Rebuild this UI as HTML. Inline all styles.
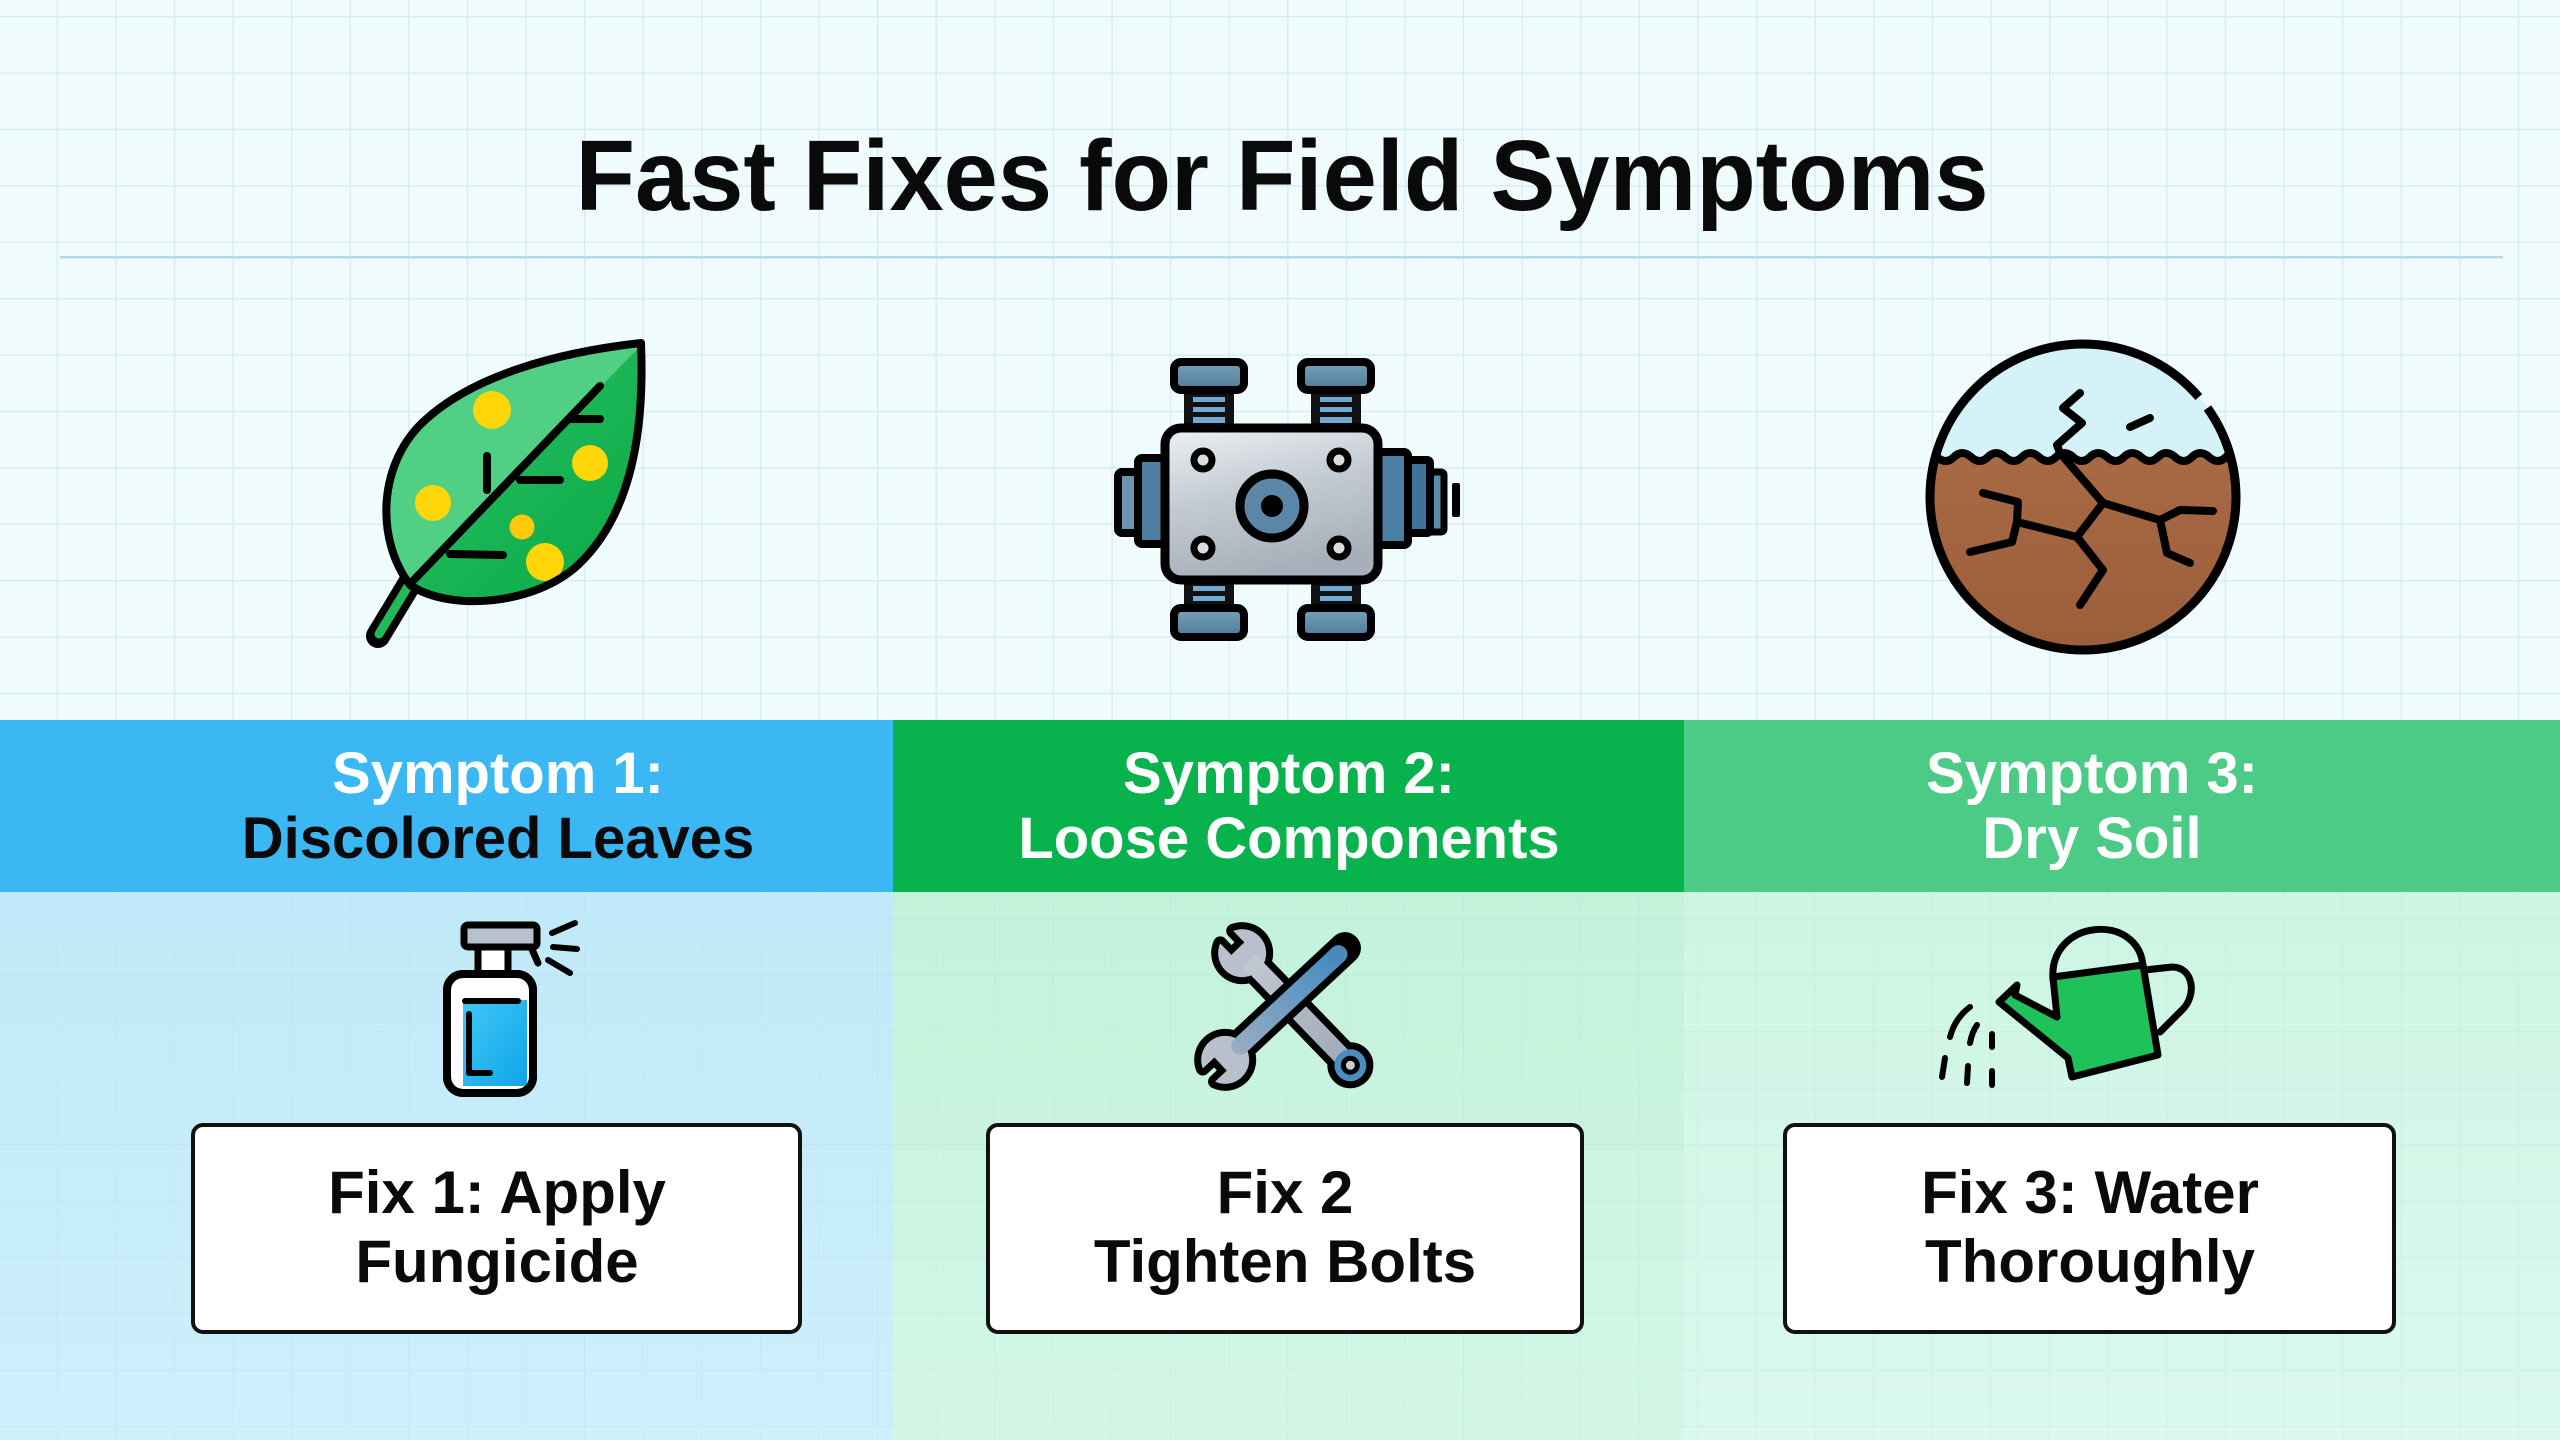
<!DOCTYPE html>
<html>
<head>
<meta charset="utf-8">
<style>
  html,body{margin:0;padding:0;width:2560px;height:1440px;overflow:hidden;background:#effbfd;}
  svg{display:block;}
  text{font-family:"Liberation Sans", Arial, sans-serif;font-weight:bold;}
</style>
</head>
<body>
<svg width="2560" height="1440" viewBox="0 0 2560 1440" xmlns="http://www.w3.org/2000/svg">
  <defs>
    <pattern id="grid" x="-2" y="16" width="58.6" height="56.4" patternUnits="userSpaceOnUse">
      <path d="M0 0 V56.4 M0 0 H58.6" fill="none" stroke="#d2ecf4" stroke-width="2.5"/>
    </pattern>
    <pattern id="gridf" x="-2" y="16" width="58.6" height="56.4" patternUnits="userSpaceOnUse">
      <path d="M0 0 V56.4 M0 0 H58.6" fill="none" stroke="#9fcfdf" stroke-opacity="0.18" stroke-width="2"/>
    </pattern>
    <linearGradient id="p1" x1="0" y1="0" x2="0" y2="1">
      <stop offset="0" stop-color="#c0e9f9"/>
      <stop offset="1" stop-color="#cdf0fb"/>
    </linearGradient>
    <linearGradient id="p2" x1="0" y1="0" x2="0" y2="1">
      <stop offset="0" stop-color="#c3f2db"/>
      <stop offset="1" stop-color="#d3f7e7"/>
    </linearGradient>
    <linearGradient id="p3" x1="0" y1="0" x2="0" y2="1">
      <stop offset="0" stop-color="#cdf5e3"/>
      <stop offset="1" stop-color="#dbf9ee"/>
    </linearGradient>
    <linearGradient id="leafDark" x1="0" y1="0" x2="1" y2="1">
      <stop offset="0" stop-color="#2cc466"/>
      <stop offset="1" stop-color="#0aa846"/>
    </linearGradient>
    <linearGradient id="metal" x1="0" y1="0" x2="0.3" y2="1">
      <stop offset="0" stop-color="#eef1f4"/>
      <stop offset="0.5" stop-color="#c3cad2"/>
      <stop offset="1" stop-color="#a7b0ba"/>
    </linearGradient>
    <linearGradient id="steel" x1="0" y1="0" x2="0" y2="1">
      <stop offset="0" stop-color="#7aa0bb"/>
      <stop offset="1" stop-color="#4d7b9b"/>
    </linearGradient>
    <linearGradient id="soil" x1="0" y1="0" x2="0" y2="1">
      <stop offset="0" stop-color="#a86a44"/>
      <stop offset="1" stop-color="#9a5d3a"/>
    </linearGradient>
    <linearGradient id="liquid" x1="0" y1="0" x2="1" y2="1">
      <stop offset="0" stop-color="#42c7f7"/>
      <stop offset="1" stop-color="#0ea5e8"/>
    </linearGradient>
    <linearGradient id="blueh" gradientUnits="userSpaceOnUse" x1="164" y1="0" x2="10" y2="0">
      <stop offset="0" stop-color="#3f88bd"/>
      <stop offset="1" stop-color="#9aaec3"/>
    </linearGradient>
    <linearGradient id="grayh" gradientUnits="userSpaceOnUse" x1="0" y1="0" x2="150" y2="0">
      <stop offset="0" stop-color="#c3cbd3"/>
      <stop offset="1" stop-color="#9eabb8"/>
    </linearGradient>
    <clipPath id="leafClip">
      <path d="M641 343 C560 352 470 375 420 425 C378 468 376 540 410 585 C450 612 535 605 578 565 C628 518 645 440 641 343 Z"/>
    </clipPath>
    <clipPath id="soilClip">
      <circle cx="2083" cy="497" r="153"/>
    </clipPath>
  </defs>

  <!-- background top -->
  <rect x="0" y="0" width="2560" height="720" fill="#effbfd"/>
  <rect x="0" y="0" width="2560" height="720" fill="url(#grid)"/>

  <!-- separator line -->
  <rect x="60" y="256" width="2443" height="2.5" fill="#b3d9e7"/>

  <!-- title -->
  <text x="1282" y="210" font-size="100" text-anchor="middle" fill="#0a0a0a" textLength="1413" lengthAdjust="spacingAndGlyphs">Fast Fixes for Field Symptoms</text>

  <!-- lower panels -->
  <rect x="0" y="892" width="893" height="548" fill="url(#p1)"/>
  <rect x="893" y="892" width="791" height="548" fill="url(#p2)"/>
  <rect x="1684" y="892" width="876" height="548" fill="url(#p3)"/>
  <rect x="0" y="892" width="2560" height="548" fill="url(#gridf)"/>

  <!-- header band -->
  <rect x="0" y="720" width="893" height="172" fill="#3bb8f3"/>
  <rect x="893" y="720" width="791" height="172" fill="#08b24d"/>
  <rect x="1684" y="720" width="876" height="172" fill="#4ccb86"/>

  <text x="498" y="793" font-size="58" text-anchor="middle" fill="#ffffff">Symptom 1:</text>
  <text x="498" y="858" font-size="58" text-anchor="middle" fill="#0a0a0a">Discolored Leaves</text>
  <text x="1289" y="793" font-size="58" text-anchor="middle" fill="#ffffff">Symptom 2:</text>
  <text x="1289" y="858" font-size="58" text-anchor="middle" fill="#ffffff">Loose Components</text>
  <text x="2092" y="793" font-size="58" text-anchor="middle" fill="#ffffff">Symptom 3:</text>
  <text x="2092" y="858" font-size="58" text-anchor="middle" fill="#ffffff">Dry Soil</text>

  <!-- fix boxes -->
  <rect x="193" y="1125" width="607" height="207" rx="10" fill="#ffffff" stroke="#111" stroke-width="4"/>
  <rect x="988" y="1125" width="594" height="207" rx="10" fill="#ffffff" stroke="#111" stroke-width="4"/>
  <rect x="1785" y="1125" width="609" height="207" rx="10" fill="#ffffff" stroke="#111" stroke-width="4"/>

  <text x="497" y="1213" font-size="60" text-anchor="middle" fill="#0a0a0a">Fix 1: Apply</text>
  <text x="497" y="1282" font-size="60" text-anchor="middle" fill="#0a0a0a">Fungicide</text>
  <text x="1285" y="1213" font-size="60" text-anchor="middle" fill="#0a0a0a">Fix 2</text>
  <text x="1285" y="1282" font-size="60" text-anchor="middle" fill="#0a0a0a">Tighten Bolts</text>
  <text x="2090" y="1213" font-size="60" text-anchor="middle" fill="#0a0a0a">Fix 3: Water</text>
  <text x="2090" y="1282" font-size="60" text-anchor="middle" fill="#0a0a0a">Thoroughly</text>

  <!-- ===== LEAF ===== -->
  <g>
    <path d="M410 583 L378 636" stroke="#000" stroke-width="24" stroke-linecap="round" fill="none"/>
    <path d="M410 583 L379 634" stroke="#22b95a" stroke-width="9" stroke-linecap="round" fill="none"/>
    <path d="M641 343 C560 352 470 375 420 425 C378 468 376 540 410 585 C450 612 535 605 578 565 C628 518 645 440 641 343 Z" fill="url(#leafDark)"/>
    <g clip-path="url(#leafClip)">
      <polygon points="360,320 660,320 641,345 405,590 360,610" fill="#50cf85"/>
    </g>
    <circle cx="492" cy="410" r="19" fill="#ffd60a"/>
    <circle cx="590" cy="463" r="18" fill="#ffd60a"/>
    <circle cx="433" cy="503" r="18" fill="#ffd60a"/>
    <circle cx="522" cy="527" r="12.5" fill="#ffc80a"/>
    <circle cx="545" cy="562" r="19" fill="#ffd60a"/>
    <g stroke="#000" stroke-width="8" stroke-linecap="round" fill="none">
      <path d="M410 584 L600 386"/>
      <path d="M487 456 L487 490"/>
      <path d="M520 480 L560 480"/>
      <path d="M572 419 L600 419"/>
      <path d="M450 554 L503 555"/>
    </g>
    <path d="M641 343 C560 352 470 375 420 425 C378 468 376 540 410 585 C450 612 535 605 578 565 C628 518 645 440 641 343 Z" fill="none" stroke="#000" stroke-width="8" stroke-linejoin="round"/>
  </g>

  <!-- ===== DEVICE ===== -->
  <g stroke="#000" stroke-linejoin="round">
    <rect x="1184" y="388" width="50" height="44" fill="#111" stroke="none"/>
    <rect x="1311" y="388" width="50" height="44" fill="#111" stroke="none"/>
    <rect x="1184" y="578" width="50" height="34" fill="#111" stroke="none"/>
    <rect x="1311" y="578" width="50" height="34" fill="#111" stroke="none"/>
    <g fill="#6fa9d4" stroke="none">
      <rect x="1193" y="397" width="32" height="5"/>
      <rect x="1193" y="407" width="32" height="5"/>
      <rect x="1193" y="417" width="32" height="6"/>
      <rect x="1320" y="397" width="32" height="5"/>
      <rect x="1320" y="407" width="32" height="5"/>
      <rect x="1320" y="417" width="32" height="6"/>
      <rect x="1193" y="586" width="32" height="5"/>
      <rect x="1193" y="596" width="32" height="5"/>
      <rect x="1320" y="586" width="32" height="5"/>
      <rect x="1320" y="596" width="32" height="5"/>
    </g>
    <rect x="1174" y="362" width="70" height="28" rx="7" fill="url(#steel)" stroke-width="8"/>
    <rect x="1301" y="362" width="70" height="28" rx="7" fill="url(#steel)" stroke-width="8"/>
    <rect x="1174" y="608" width="70" height="29" rx="7" fill="url(#steel)" stroke-width="8"/>
    <rect x="1301" y="608" width="70" height="29" rx="7" fill="url(#steel)" stroke-width="8"/>
    <rect x="1118" y="472" width="22" height="61" rx="4" fill="#6b94b3" stroke-width="8"/>
    <rect x="1138" y="458" width="30" height="86" rx="4" fill="#4f7f9f" stroke-width="8"/>
    <rect x="1426" y="472" width="18" height="60" rx="3" fill="#5d8bab" stroke-width="7"/>
    <rect x="1406" y="460" width="24" height="73" rx="3" fill="#3f7399" stroke-width="8"/>
    <rect x="1376" y="452" width="32" height="93" rx="4" fill="#4a7ea2" stroke-width="8"/>
    <rect x="1452" y="483" width="8" height="34" rx="2" fill="#000" stroke="none"/>
    <rect x="1165" y="428" width="213" height="152" rx="16" fill="url(#metal)" stroke-width="9"/>
    <circle cx="1203" cy="460" r="9" fill="#d9dcdf" stroke-width="7"/>
    <circle cx="1339" cy="460" r="9" fill="#d9dcdf" stroke-width="7"/>
    <circle cx="1203" cy="548" r="9" fill="#d9dcdf" stroke-width="7"/>
    <circle cx="1339" cy="548" r="9" fill="#d9dcdf" stroke-width="7"/>
    <circle cx="1272" cy="506" r="32" fill="#5a86a7" stroke-width="9"/>
    <circle cx="1272" cy="506" r="11" fill="#000" stroke="none"/>
  </g>

  <!-- ===== SOIL ===== -->
  <g>
    <circle cx="2083" cy="497" r="153" fill="#d5f2f8"/>
    <g clip-path="url(#soilClip)">
      <path d="M1920 457 q8 -8 17 0 t17 0 t17 0 t17 0 t17 0 t17 0 t17 0 t17 0 t17 0 t17 0 t17 0 t17 0 t17 0 t17 0 t17 0 t17 0 t17 0 t17 0 t17 0 t17 0 L2260 670 L1920 670 Z" fill="url(#soil)"/>
      <path d="M1920 457 q8 -8 17 0 t17 0 t17 0 t17 0 t17 0 t17 0 t17 0 t17 0 t17 0 t17 0 t17 0 t17 0 t17 0 t17 0 t17 0 t17 0 t17 0 t17 0 t17 0 t17 0" fill="none" stroke="#000" stroke-width="8"/>
    </g>
    <g stroke="#000" stroke-width="8" stroke-linecap="round" stroke-linejoin="round" fill="none">
      <polyline points="2080,393 2063,408 2082,423 2057,445 2060,453 2103,503 2077,537 2103,570 2080,605"/>
      <polyline points="2077,537 2017,522 2012,542 1970,552"/>
      <polyline points="2017,522 2018,502 1983,493"/>
      <polyline points="2103,503 2160,520 2180,510 2213,511"/>
      <polyline points="2160,520 2167,553 2190,563"/>
      <line x1="2130" y1="427" x2="2150" y2="418"/>
    </g>
    <circle cx="2083" cy="497" r="153" fill="none" stroke="#000" stroke-width="9" stroke-dasharray="852 14 1000"/>
  </g>

  <!-- ===== SPRAY BOTTLE ===== -->
  <g stroke="#000" stroke-linecap="round" stroke-linejoin="round">
    <path d="M531 947 L538 963" stroke-width="7" fill="none"/>
    <rect x="447" y="974" width="86" height="119" rx="16" fill="#ffffff" stroke-width="8"/>
    <rect x="478" y="947" width="30" height="27" fill="#ffffff" stroke-width="7"/>
    <rect x="464" y="925" width="73" height="22" rx="4" fill="#b7c1cb" stroke-width="7"/>
    <rect x="463" y="1000" width="64" height="86" fill="url(#liquid)" stroke="none"/>
    <path d="M465 1001 L518 1001" stroke-width="6" fill="none"/>
    <path d="M469 1014 L469 1073 L490 1073" stroke-width="6" fill="none"/>
    <rect x="447" y="974" width="86" height="119" rx="16" fill="none" stroke-width="8"/>
    <path d="M552 933 L575 923" stroke-width="6"/>
    <path d="M553 947 L577 949" stroke-width="6"/>
    <path d="M548 960 L570 973" stroke-width="6"/>
  </g>

  <!-- ===== WRENCHES ===== -->
  <g transform="translate(1242,953) rotate(46)">
    <g stroke="#000" stroke-width="14" stroke-linejoin="round" fill="#000">
      <path d="M-22 -9 L-6 -9 L-6 9 L-22 9 A24 24 0 1 0 -22 -9 Z"/>
      <rect x="10" y="-9" width="140" height="18"/>
      <circle cx="156" cy="0" r="16"/>
    </g>
    <path d="M-22 -9 L-6 -9 L-6 9 L-22 9 A24 24 0 1 0 -22 -9 Z" fill="#b8c1cb"/>
    <rect x="10" y="-9" width="140" height="18" fill="url(#grayh)"/>
    <circle cx="156" cy="0" r="16" fill="#4a8ec0"/>
    <circle cx="156" cy="0" r="7" fill="#c8cfd4" stroke="#000" stroke-width="5"/>
  </g>
  <g transform="translate(1225,1060) rotate(-43)">
    <g stroke="#000" stroke-width="14" stroke-linejoin="round" stroke-linecap="round" fill="#000">
      <path d="M-22 -9 L-6 -9 L-6 9 L-22 9 A24 24 0 1 0 -22 -9 Z"/>
      <path d="M10 0 L164 0" stroke-width="32"/>
    </g>
    <path d="M-22 -9 L-6 -9 L-6 9 L-22 9 A24 24 0 1 0 -22 -9 Z" fill="#b8c1cb"/>
    <rect x="12" y="-9" width="152" height="18" rx="9" fill="url(#blueh)"/>
    <rect x="146" y="-9" width="18" height="18" rx="9" fill="#4a8ab8"/>
  </g>

  <!-- ===== WATERING CAN ===== -->
  <g stroke="#000" stroke-width="7" stroke-linecap="round" stroke-linejoin="round">
    <path d="M2053 980 C2048 918 2140 912 2143 967" fill="none"/>
    <path d="M2145 970 L2172 967 C2194 967 2197 996 2182 1010 L2160 1032" fill="none"/>
    <polygon points="2053,977 2143,965 2158,1055 2072,1077 2068,1058 1999,1002 2017,985 2015,995 2057,1017" fill="#1fc15b"/>
    <g stroke-width="6" fill="none">
      <path d="M1950 1037 Q1955 1018 1970 1007"/>
      <path d="M1970 1043 Q1972 1032 1977 1025"/>
      <path d="M1992 1047 L1992 1034"/>
      <path d="M1942 1077 L1945 1058"/>
      <path d="M1967 1083 L1968 1066"/>
      <path d="M1992 1085 L1992 1071"/>
    </g>
  </g>
</svg>
</body>
</html>
